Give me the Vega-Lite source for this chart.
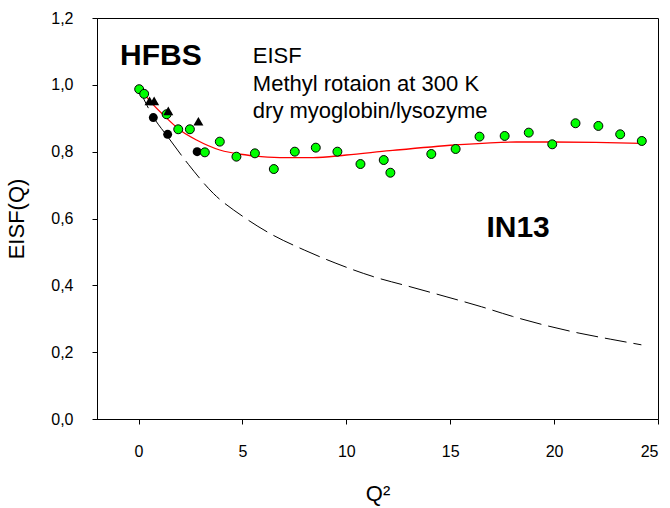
{
  "$schema": "https://vega.github.io/schema/vega-lite/v6.json",
  "autosize": "none",
  "width": 561,
  "height": 401,
  "padding": {"left": 97, "top": 18, "right": 12, "bottom": 89},
  "background": "white",
  "config": {
    "view": {"stroke": "black", "strokeWidth": 1},
    "font": "Liberation Sans",
    "axis": {
      "grid": false,
      "domainColor": "black",
      "tickColor": "black",
      "tickSize": 5,
      "labelColor": "black",
      "titleColor": "black",
      "labelFont": "Liberation Sans",
      "titleFont": "Liberation Sans",
      "labelFontSize": 16,
      "titleFontSize": 22,
      "titleFontWeight": "normal",
      "labelPadding": 19
    }
  },
  "datasets": {
    "dashed": [
      {"q2": 0.0, "eisf": 0.99},
      {"q2": 0.7, "eisf": 0.905},
      {"q2": 1.4, "eisf": 0.845},
      {"q2": 2.4, "eisf": 0.762},
      {"q2": 3.6, "eisf": 0.675},
      {"q2": 5.0, "eisf": 0.607},
      {"q2": 6.3, "eisf": 0.556},
      {"q2": 8.0, "eisf": 0.505},
      {"q2": 9.5, "eisf": 0.466},
      {"q2": 11.3, "eisf": 0.426},
      {"q2": 13.0, "eisf": 0.397},
      {"q2": 14.8, "eisf": 0.366},
      {"q2": 16.5, "eisf": 0.336},
      {"q2": 18.0, "eisf": 0.307},
      {"q2": 19.6, "eisf": 0.28},
      {"q2": 21.2, "eisf": 0.257},
      {"q2": 22.7, "eisf": 0.239},
      {"q2": 24.2, "eisf": 0.222}
    ],
    "fit": [
      {"q2": 0.07, "eisf": 0.99},
      {"q2": 0.5, "eisf": 0.955},
      {"q2": 1.19, "eisf": 0.91},
      {"q2": 1.99, "eisf": 0.865},
      {"q2": 2.79, "eisf": 0.835},
      {"q2": 3.91, "eisf": 0.805},
      {"q2": 5.2, "eisf": 0.79},
      {"q2": 6.8, "eisf": 0.782},
      {"q2": 8.4, "eisf": 0.782},
      {"q2": 10.0, "eisf": 0.79},
      {"q2": 12.1, "eisf": 0.803},
      {"q2": 15.26, "eisf": 0.82},
      {"q2": 18.18, "eisf": 0.829},
      {"q2": 19.91, "eisf": 0.829},
      {"q2": 22.0, "eisf": 0.828},
      {"q2": 24.2, "eisf": 0.825}
    ],
    "green": [
      {"q2": 0.03, "eisf": 0.987},
      {"q2": 0.27, "eisf": 0.973},
      {"q2": 1.35, "eisf": 0.912},
      {"q2": 1.91, "eisf": 0.867},
      {"q2": 2.47, "eisf": 0.867},
      {"q2": 3.19, "eisf": 0.798},
      {"q2": 3.91, "eisf": 0.83},
      {"q2": 4.71, "eisf": 0.785},
      {"q2": 5.6, "eisf": 0.795},
      {"q2": 6.51, "eisf": 0.748},
      {"q2": 7.52, "eisf": 0.8},
      {"q2": 8.53, "eisf": 0.812},
      {"q2": 9.57, "eisf": 0.8},
      {"q2": 10.68, "eisf": 0.763},
      {"q2": 11.8, "eisf": 0.775},
      {"q2": 12.12, "eisf": 0.737},
      {"q2": 14.09, "eisf": 0.793},
      {"q2": 15.26, "eisf": 0.808},
      {"q2": 16.41, "eisf": 0.845},
      {"q2": 17.62, "eisf": 0.847},
      {"q2": 18.78, "eisf": 0.857},
      {"q2": 19.91, "eisf": 0.822},
      {"q2": 21.03, "eisf": 0.885},
      {"q2": 22.13, "eisf": 0.877},
      {"q2": 23.18, "eisf": 0.852},
      {"q2": 24.22, "eisf": 0.832}
    ],
    "black": [
      {"q2": 0.71, "eisf": 0.902},
      {"q2": 1.4, "eisf": 0.852},
      {"q2": 2.82, "eisf": 0.8}
    ],
    "tri": [
      {"q2": 0.53, "eisf": 0.952},
      {"q2": 0.75, "eisf": 0.952},
      {"q2": 1.43, "eisf": 0.922},
      {"q2": 2.88, "eisf": 0.891}
    ],
    "bigLabels": [
      {"q2": -0.89, "eisf": 1.06, "label": "HFBS"},
      {"q2": 16.74, "eisf": 0.546, "label": "IN13"}
    ],
    "notes": [
      {"q2": 5.5, "eisf": 1.065, "label": "EISF"},
      {"q2": 5.5, "eisf": 0.983, "label": "Methyl rotaion at 300 K"},
      {"q2": 5.5, "eisf": 0.902, "label": "dry myoglobin/lysozyme"}
    ]
  },
  "layer": [
    {
      "data": {"name": "dashed"},
      "mark": {"type": "line", "color": "black", "strokeWidth": 1, "strokeDash": [22, 7], "interpolate": "monotone"},
      "encoding": {
        "x": {"field": "q2", "type": "quantitative", "title": "Q²", "scale": {"domain": [-2, 25], "nice": false, "zero": false},
              "axis": {"values": [0, 5, 10, 15, 20, 25], "titlePadding": 24}},
        "y": {"field": "eisf", "type": "quantitative", "title": "EISF(Q)", "scale": {"domain": [0, 1.2], "nice": false, "zero": false},
              "axis": {"values": [0, 0.2, 0.4, 0.6, 0.8, 1.0, 1.2], "titlePadding": 22,
                       "labelExpr": "replace(format(datum.value, '.1f'), '.', ',')"}}
      }
    },
    {
      "data": {"name": "fit"},
      "mark": {"type": "line", "color": "#ff0000", "strokeWidth": 1.3, "interpolate": "monotone"},
      "encoding": {
        "x": {"field": "q2", "type": "quantitative", "title": "Q²"},
        "y": {"field": "eisf", "type": "quantitative", "title": "EISF(Q)"}
      }
    },
    {
      "data": {"name": "black"},
      "mark": {"type": "point", "shape": "circle", "filled": true, "color": "black", "size": 80, "opacity": 1},
      "encoding": {
        "x": {"field": "q2", "type": "quantitative", "title": "Q²"},
        "y": {"field": "eisf", "type": "quantitative", "title": "EISF(Q)"}
      }
    },
    {
      "data": {"name": "green"},
      "mark": {"type": "point", "shape": "circle", "filled": true, "fill": "#00ff00", "stroke": "black", "strokeWidth": 1, "size": 80, "opacity": 1},
      "encoding": {
        "x": {"field": "q2", "type": "quantitative", "title": "Q²"},
        "y": {"field": "eisf", "type": "quantitative", "title": "EISF(Q)"}
      }
    },
    {
      "data": {"name": "tri"},
      "mark": {"type": "point", "shape": "triangle-up", "filled": true, "color": "black", "size": 100, "opacity": 1},
      "encoding": {
        "x": {"field": "q2", "type": "quantitative", "title": "Q²"},
        "y": {"field": "eisf", "type": "quantitative", "title": "EISF(Q)"}
      }
    },
    {
      "data": {"name": "bigLabels"},
      "mark": {"type": "text", "align": "left", "baseline": "alphabetic", "fontSize": 30, "fontWeight": "bold", "font": "Liberation Sans", "color": "black"},
      "encoding": {
        "x": {"field": "q2", "type": "quantitative", "title": "Q²"},
        "y": {"field": "eisf", "type": "quantitative", "title": "EISF(Q)"},
        "text": {"field": "label"}
      }
    },
    {
      "data": {"name": "notes"},
      "mark": {"type": "text", "align": "left", "baseline": "alphabetic", "fontSize": 22, "font": "Liberation Sans", "color": "black"},
      "encoding": {
        "x": {"field": "q2", "type": "quantitative", "title": "Q²"},
        "y": {"field": "eisf", "type": "quantitative", "title": "EISF(Q)"},
        "text": {"field": "label"}
      }
    }
  ]
}
